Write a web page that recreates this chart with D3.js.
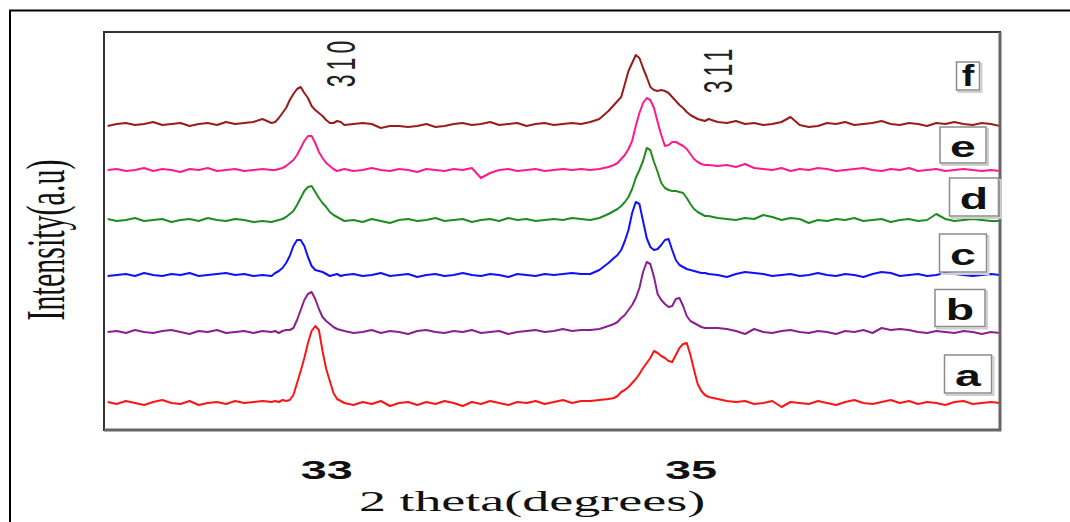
<!DOCTYPE html>
<html>
<head>
<meta charset="utf-8">
<script src="https://cdn.jsdelivr.net/npm/d3@7"></script>
<style>
body { margin: 0; background: #fff; }
svg { display: block; }
.curve { fill: none; stroke-width: 2; stroke-linejoin: round; }
.frame { fill: none; stroke: #333; stroke-width: 2; }
.frameShade { stroke: #666; stroke-width: 3; }
.tick text { font-family: "Liberation Sans", Arial, sans-serif; font-weight: bold; font-size: 26px; fill: #111; }
.title { font-family: "Liberation Serif", "Times New Roman", serif; font-size: 30px; fill: #111; }
.hkl { font-family: "Liberation Sans", Arial, sans-serif; font-size: 23px; letter-spacing: 4px; fill: #222; }
.tag text { font-family: "Liberation Sans", Arial, sans-serif; font-weight: bold; font-size: 29px; fill: #111; }
.tag .box { fill: #fff; stroke: #8c8c8c; stroke-width: 1.5; }
.tag .shade { fill: none; stroke: #cfcfcf; stroke-width: 2; }
</style>
</head>
<body>
<div id="plot"></div>
<script>
// 2 theta grid (degrees), denser around the two reflections
var theta = [31.80,31.85,31.90,31.95,32.00,32.05,32.10,32.15,32.20,32.25,32.30,32.35,32.40,32.45,32.50,32.55,32.60,32.65,
  32.70,32.72,32.74,32.76,32.78,32.80,32.82,32.84,32.86,32.88,32.90,32.92,32.94,32.96,32.98,33.00,33.02,33.04,33.06,33.08,
  33.10,33.15,33.20,33.25,33.30,33.35,33.40,33.45,33.50,33.55,33.60,33.65,33.70,33.75,33.80,33.85,33.90,33.95,34.00,34.05,34.10,34.15,34.20,34.25,34.30,34.35,34.40,34.45,34.50,34.55,
  34.58,34.60,34.62,34.64,34.66,34.68,34.70,34.72,34.74,34.76,34.78,34.80,34.82,34.84,34.86,34.88,34.90,34.92,34.94,34.96,34.98,35.00,35.02,35.04,35.06,35.08,35.10,
  35.15,35.20,35.25,35.30,35.35,35.40,35.45,35.50,35.55,35.60,35.65,35.70,35.75,35.80,35.85,35.90,35.95,36.00,36.05,36.10,36.15,36.20,36.25,36.30,36.35,36.40,36.45,36.50,36.55,36.60,36.65,36.70];

// intensities (a.u.) above each pattern's own baseline
var intA = [1,-1,2,0,-2,1,3,0,-1,2,-2,0,1,-1,2,0,1,2,
  1,2,1,3,2,3,8,20,32,45,60,72,77,73,52,34,22,10,4,2,
  0,-2,1,-1,2,-3,0,1,-2,1,-1,2,0,-3,1,-1,2,0,-2,1,0,2,-1,1,3,0,2,2,3,4,
  5,7,11,13,16,20,24,29,35,40,45,52,50,47,45,42,41,48,55,59,60,48,33,19,12,8,6,
  4,2,1,2,-1,0,2,-4,1,0,-1,2,0,-2,1,3,0,-1,1,3,0,2,-1,1,0,-2,1,2,-1,0,1,0];
var intB = [0,1,-1,2,0,-1,1,2,0,-2,1,0,2,-1,0,1,-1,1,
  0,1,-1,1,2,2,4,12,22,32,38,40,33,23,15,11,8,5,3,2,
  1,-1,0,2,-1,1,0,-2,1,2,0,-1,1,0,2,-1,0,1,-2,0,1,2,0,1,3,1,2,2,3,6,
  8,10,14,17,22,27,34,44,60,70,68,55,38,32,28,25,26,33,34,26,16,11,9,7,5,4,4,
  4,3,1,-2,3,0,-1,1,2,0,-1,1,0,-2,1,0,2,-1,4,2,3,2,0,-1,1,0,-1,1,0,-2,0,-1];
var intC = [-1,0,1,-1,2,0,-1,1,0,2,-1,0,1,2,0,1,-1,0,
  -1,2,4,7,12,19,29,35,35,29,18,9,5,4,3,1,-1,0,1,-1,
  0,1,-1,0,2,-1,0,1,-2,0,1,-1,0,2,0,-1,1,0,-2,1,0,-1,1,0,1,2,1,1,5,12,
  17,20,25,34,45,62,73,71,54,37,28,25,26,30,35,36,25,15,10,8,6,5,4,3,2,2,1,
  0,-2,1,3,2,1,-1,0,1,-1,0,2,0,-1,1,0,-2,1,3,2,-1,0,1,-1,0,2,1,0,-1,0,1,0];
var intD = [1,-1,0,2,-1,0,1,-2,0,1,-1,2,0,-1,1,0,-2,-1,
  -2,-1,0,1,3,6,9,15,22,29,33,34,28,22,17,13,8,5,3,1,
  -1,0,-2,1,-1,-3,0,1,-1,0,2,-1,0,1,-2,0,1,-1,2,0,1,-1,0,1,0,2,1,0,2,6,
  9,11,14,18,23,31,42,50,59,72,70,58,48,37,32,30,29,29,28,27,22,16,11,8,6,4,4,
  2,1,0,2,1,5,3,0,2,1,-3,0,-1,1,0,2,-1,0,1,-2,0,1,-1,0,6,1,-1,0,1,0,-1,-1];
var intE = [0,1,-1,0,2,-1,1,0,-2,1,0,2,-1,0,1,-1,0,1,
  0,0,1,2,4,7,10,15,22,29,34,34,27,18,12,7,4,1,-1,0,
  1,-1,0,2,0,-1,1,0,-2,1,0,-1,1,0,2,-8,-3,0,1,-1,0,1,-1,0,1,0,1,0,1,3,
  5,7,11,15,21,29,44,57,67,72,70,62,48,35,24,25,28,28,26,24,21,16,11,8,6,5,5,
  4,5,3,6,2,1,0,2,-1,1,0,2,1,-1,0,1,2,0,-1,1,0,2,-1,0,1,-1,0,1,0,-1,0,-1];
var intF = [-2,0,1,-1,0,2,-1,0,1,-2,0,1,-1,2,0,1,2,5,
  1,2,6,11,16,24,30,35,37,31,26,18,14,11,8,4,1,1,3,2,
  -1,0,1,0,-4,-2,-2,-3,-2,0,-3,-2,0,1,-1,0,2,-1,0,1,-2,0,1,-1,0,1,0,2,5,13,
  19,23,27,40,53,61,69,66,56,47,37,34,33,34,33,31,27,23,19,16,12,9,7,5,4,3,5,
  2,1,3,0,1,-1,0,2,7,-1,-3,-2,1,0,2,-1,0,1,3,0,-1,1,0,-2,1,0,2,0,-1,1,0,-2];

var sampleNames = ["a", "b", "c", "d", "e", "f"];
var sampleOffsets = [27, 98, 155, 210, 260, 306];   // vertical stacking (a.u.)
var sampleColors = ["#ff1414", "#8a1f8f", "#1010ff", "#1f8c1f", "#ff1a8c", "#981c1c"];
var sampleData = [intA, intB, intC, intD, intE, intF];

var tickValues = [33, 35];
var peakLabels = ["310", "311"];
var peakTheta = [33.07, 35.15];

var width = 1070, height = 522;
var plot = {left: 104, right: 1000, top: 32, bottom: 430};
var stretch = 1.8;   // the original figure is stretched sideways

// label box layout (px): centre x, centre y, width, height
var tagLayout = [
  [968, 374, 47, 38], [960, 308, 50, 37], [963, 253, 47, 38],
  [974, 197, 49, 38], [963, 145, 46, 36], [968, 76, 23, 28]];

var x = d3.scaleLinear().domain([31.78, 36.70]).range([plot.left, plot.right]);
var y = d3.scaleLinear().domain([0, 400]).range([430, 30]);

var svg = d3.select('#plot').append('svg')
  .attr('width', width)
  .attr('height', height);

// outer figure border
svg.append('path')
  .attr('d', 'M10,' + height + 'V10.5H' + width)
  .attr('fill', 'none')
  .attr('stroke', '#000')
  .attr('stroke-width', 2);

svg.append('clipPath').attr('id', 'clip')
  .append('rect')
  .attr('x', plot.left).attr('y', plot.top)
  .attr('width', plot.right - plot.left).attr('height', plot.bottom - plot.top);

var line = d3.line()
  .x(function(d){ return x(d[0]); })
  .y(function(d){ return y(d[1]); });

var curves = svg.append('g').attr('clip-path', 'url(#clip)');
sampleData.forEach(function(vals, i){
  var pts = theta.map(function(t, j){ return [t, vals[j] + sampleOffsets[i]]; });
  curves.append('path')
    .datum(pts)
    .attr('class', 'curve')
    .attr('stroke', sampleColors[i])
    .attr('d', line);
});

// plot frame, darker shade on the right and bottom
svg.append('rect')
  .attr('class', 'frame')
  .attr('x', plot.left).attr('y', plot.top)
  .attr('width', plot.right - plot.left).attr('height', plot.bottom - plot.top);
svg.append('path')
  .attr('class', 'frameShade')
  .attr('fill', 'none')
  .attr('d', 'M' + plot.right + ',' + plot.top + 'V' + plot.bottom + 'H' + plot.left);

// x axis: labels only
var xAxis = d3.axisBottom(x)
  .tickValues(tickValues)
  .tickSize(0)
  .tickPadding(0)
  .tickFormat(d3.format('d'));
var gx = svg.append('g')
  .attr('transform', 'translate(0,479)')
  .call(xAxis);
gx.select('.domain').remove();
gx.selectAll('text')
  .attr('y', 0).attr('dy', 0)
  .attr('transform', 'scale(' + stretch + ',1)');

svg.append('g')
  .attr('transform', 'translate(532,511) scale(' + stretch + ',1)')
  .append('text')
  .attr('class', 'title')
  .attr('text-anchor', 'middle')
  .text('2 theta(degrees)');

svg.append('g')
  .attr('transform', 'translate(64,240) scale(' + stretch + ',1) rotate(-90)')
  .append('text')
  .attr('class', 'title')
  .attr('text-anchor', 'middle')
  .text('Intensity(a.u)');

// reflection indices
var hklY = [62, 69];
var hklBase = [355, 732];
peakLabels.forEach(function(lbl, i){
  svg.append('g')
    .attr('transform', 'translate(' + hklBase[i] + ',' + hklY[i] + ') scale(' + stretch + ',1) rotate(-90)')
    .append('text')
    .attr('class', 'hkl')
    .attr('text-anchor', 'middle')
    .text(lbl);
});

// sample tags
var tags = svg.selectAll('.tag')
  .data(sampleNames)
  .enter().append('g')
  .attr('class', 'tag')
  .attr('transform', function(d, i){ return 'translate(' + tagLayout[i][0] + ',' + tagLayout[i][1] + ')'; });

tags.append('rect')
  .attr('class', 'shade')
  .attr('x', function(d, i){ return -tagLayout[i][2] / 2 + 2; })
  .attr('y', function(d, i){ return -tagLayout[i][3] / 2 + 2; })
  .attr('width', function(d, i){ return tagLayout[i][2]; })
  .attr('height', function(d, i){ return tagLayout[i][3]; });
tags.append('rect')
  .attr('class', 'box')
  .attr('x', function(d, i){ return -tagLayout[i][2] / 2; })
  .attr('y', function(d, i){ return -tagLayout[i][3] / 2; })
  .attr('width', function(d, i){ return tagLayout[i][2]; })
  .attr('height', function(d, i){ return tagLayout[i][3]; });
tags.append('text')
  .attr('text-anchor', 'middle')
  .attr('y', function(d){ return d == 'f' ? 10 : 12; })
  .attr('transform', function(d){ return 'scale(' + (d == 'f' ? 1.3 : 1.6) + ',1)'; })
  .text(function(d){ return d; });
</script>
</body>
</html>
